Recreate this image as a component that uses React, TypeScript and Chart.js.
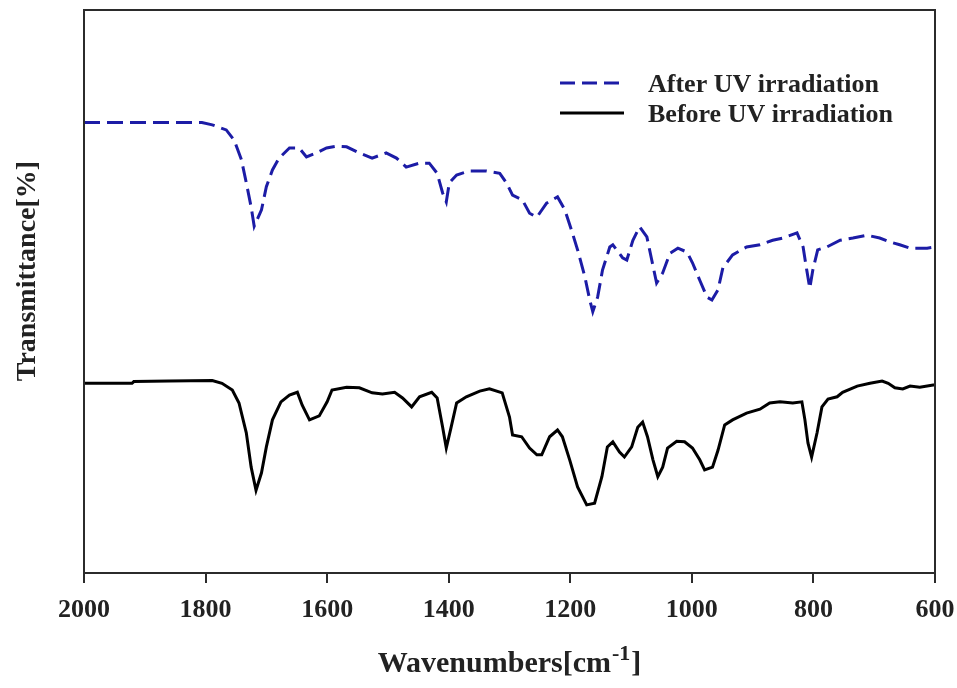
import React, { useEffect, useRef } from "react";
import { Chart, registerables } from "chart.js";

Chart.register(...registerables);

// ---- Data ----
const afterWavenumbers = [
  2000, 1806, 1789, 1766, 1753, 1741, 1733, 1725, 1720, 1708, 1700, 1690, 1679, 1662, 1646,
  1634, 1618, 1601, 1585, 1568, 1547, 1526, 1503, 1486, 1470, 1448, 1432, 1419, 1410, 1404,
  1399, 1387, 1366, 1338, 1316, 1305, 1295, 1279, 1267, 1255, 1239, 1221, 1209, 1198, 1188,
  1176, 1168, 1163, 1155, 1147, 1135, 1130, 1114, 1107, 1097, 1086, 1074, 1066, 1058, 1048,
  1036, 1023, 1008, 999, 987, 975, 967, 957, 949, 933, 910, 888, 867, 850, 827,
  817, 811, 806, 801, 793, 778, 756, 735, 712, 691, 674, 658, 641, 613, 600,
];
const afterTransmittance = [
  80.0, 80.0, 79.6, 78.7, 76.9, 73.4, 69.3, 65.0, 61.6, 64.5, 68.6, 71.6, 73.7, 75.5, 75.5,
  73.9, 74.6, 75.5, 75.8, 75.7, 74.6, 73.7, 74.6, 73.7, 72.1, 72.8, 72.8, 71.0, 67.5, 65.9,
  69.3, 70.7, 71.4, 71.4, 71.0, 69.3, 67.1, 66.3, 63.9, 63.2, 65.7, 66.8, 64.5, 60.9, 57.4,
  52.6, 48.5, 46.4, 49.0, 53.8, 57.9, 58.3, 56.0, 55.6, 59.1, 61.5, 59.7, 55.6, 51.5, 53.3,
  56.8, 57.7, 57.0, 55.1, 52.0, 49.0, 48.5, 50.3, 54.2, 56.5, 57.9, 58.3, 59.1, 59.5, 60.4,
  57.9, 53.8, 50.6, 53.8, 57.4, 57.9, 59.1, 59.5, 60.0, 59.5, 58.8, 58.3, 57.7, 57.7, 57.9,
];

const beforeWavenumbers = [
  2000, 1921, 1918, 1860, 1789, 1773, 1756, 1745, 1733, 1725, 1717, 1708, 1700, 1690, 1676,
  1662, 1649, 1641, 1629, 1613, 1600, 1592, 1568, 1547, 1526, 1509, 1489, 1476, 1461, 1448,
  1428, 1419, 1410, 1404, 1396, 1387, 1371, 1349, 1333, 1312, 1300, 1295, 1280, 1267, 1255,
  1247, 1234, 1221, 1213, 1201, 1188, 1173, 1160, 1148, 1139, 1130, 1119, 1111, 1099, 1089,
  1081, 1073, 1064, 1056, 1048, 1040, 1025, 1012, 999, 987, 979, 966, 957, 946, 933,
  910, 888, 872, 855, 834, 819, 814, 809, 803, 794, 786, 776, 761, 752, 728,
  707, 687, 677, 666, 653, 641, 625, 603, 600,
];
const beforeTransmittance = [
  33.7, 33.7, 34.0, 34.1, 34.2, 33.7, 32.5, 30.2, 24.9, 18.8, 14.7, 17.8, 22.4, 27.2, 30.4,
  31.6, 32.1, 29.8, 27.2, 27.9, 30.4, 32.5, 33.0, 32.9, 32.0, 31.8, 32.1, 31.1, 29.5, 31.3,
  32.1, 31.1, 25.9, 22.2, 25.9, 30.2, 31.3, 32.3, 32.7, 32.0, 27.7, 24.5, 24.2, 22.2, 21.0,
  21.0, 24.2, 25.4, 24.2, 20.1, 15.3, 12.1, 12.4, 17.1, 22.4, 23.3, 21.5, 20.6, 22.4, 25.9,
  26.8, 24.2, 20.1, 17.1, 18.8, 22.2, 23.4, 23.3, 22.2, 20.1, 18.3, 18.8, 21.8, 26.3, 27.2,
  28.4, 29.1, 30.2, 30.4, 30.2, 30.4, 27.2, 23.1, 20.6, 24.9, 29.5, 30.9, 31.3, 32.1, 33.2,
  33.7, 34.1, 33.7, 32.9, 32.7, 33.2, 33.0, 33.4, 33.4,
];

const xTickValues = [2000, 1800, 1600, 1400, 1200, 1000, 800, 600];
const seriesLabels = ["After UV irradiation", "Before UV irradiation"];
const xTitleMain = "Wavenumbers[cm";
const xTitleSup = "-1";
const xTitleEnd = "]";
const yTitle = "Transmittance[%]";

const BLUE = "#1c1ca6";
const AXIS = "#2b2b2b";
const SERIF = '"Liberation Serif", "Times New Roman", "DejaVu Serif", serif';

const decorPlugin = {
  id: "decor",
  afterDraw(chart: any) {
    const { ctx, chartArea: a } = chart;
    ctx.save();
    // frame box
    ctx.strokeStyle = AXIS;
    ctx.lineWidth = 2;
    ctx.strokeRect(a.left, a.top, a.right - a.left, a.bottom - a.top);

    // legend
    const lx0 = a.left + 476;
    const lx1 = a.left + 540;
    const tx = a.left + 564;
    const rows = [
      { y: a.top + 73, color: BLUE, dash: [15, 7], width: 3 },
      { y: a.top + 103, color: "#000", dash: [], width: 3 },
    ];
    ctx.font = `bold 26px ${SERIF}`;
    ctx.textAlign = "left";
    ctx.textBaseline = "alphabetic";
    rows.forEach((r, i) => {
      ctx.beginPath();
      ctx.setLineDash(r.dash);
      ctx.strokeStyle = r.color;
      ctx.lineWidth = r.width;
      ctx.moveTo(lx0, r.y);
      ctx.lineTo(lx1, r.y);
      ctx.stroke();
      ctx.setLineDash([]);
      ctx.fillStyle = "#222";
      ctx.fillText(seriesLabels[i], tx, r.y + 9);
    });

    // y title
    ctx.save();
    ctx.translate(35, 271);
    ctx.rotate(-Math.PI / 2);
    ctx.font = `bold 28px ${SERIF}`;
    ctx.textAlign = "center";
    ctx.textBaseline = "alphabetic";
    ctx.fillStyle = "#222";
    ctx.fillText(yTitle, 0, 0);
    ctx.restore();

    // x title with superscript
    const mainFont = `bold 30px ${SERIF}`;
    const supFont = `bold 22px ${SERIF}`;
    ctx.font = mainFont;
    const w1 = ctx.measureText(xTitleMain).width;
    const w3 = ctx.measureText(xTitleEnd).width;
    ctx.font = supFont;
    const w2 = ctx.measureText(xTitleSup).width;
    const total = w1 + w2 + w3 + 2;
    const cx = (a.left + a.right) / 2;
    let x = cx - total / 2;
    const base = 672;
    ctx.fillStyle = "#222";
    ctx.textAlign = "left";
    ctx.font = mainFont;
    ctx.fillText(xTitleMain, x, base);
    x += w1 + 1;
    ctx.font = supFont;
    ctx.fillText(xTitleSup, x, base - 12);
    x += w2 + 1;
    ctx.font = mainFont;
    ctx.fillText(xTitleEnd, x, base);
    ctx.restore();
  },
};

export default function App() {
  const ref = useRef<HTMLCanvasElement | null>(null);

  useEffect(() => {
    if (!ref.current) return;
    const chart = new Chart(ref.current, {
      type: "scatter",
      data: {
        datasets: [
          {
            label: seriesLabels[0],
            data: afterWavenumbers.map((w, i) => ({ x: w, y: afterTransmittance[i] })),
            showLine: true,
            borderColor: BLUE,
            borderWidth: 3,
            borderDash: [16, 7],
            pointRadius: 0,
            tension: 0,
          },
          {
            label: seriesLabels[1],
            data: beforeWavenumbers.map((w, i) => ({ x: w, y: beforeTransmittance[i] })),
            showLine: true,
            borderColor: "#000",
            borderWidth: 3,
            pointRadius: 0,
            tension: 0,
          },
        ],
      },
      options: {
        animation: false,
        responsive: false,
        devicePixelRatio: 1,
        layout: { padding: { left: 84, right: 22, top: 10, bottom: 0 } },
        plugins: { legend: { display: false }, tooltip: { enabled: false } },
        scales: {
          x: {
            type: "linear",
            reverse: true,
            min: 600,
            max: 2000,
            afterBuildTicks: (scale: any) => {
              scale.ticks = xTickValues.map((v) => ({ value: v }));
            },
            afterFit: (scale: any) => {
              scale.height = 115;
              scale.paddingLeft = 0;
              scale.paddingRight = 0;
            },
            ticks: {
              font: { family: SERIF, size: 26, weight: "bold" },
              color: "#222",
              padding: 12,
              maxRotation: 0,
              autoSkip: false,
              callback: (v: any) => String(v),
            },
            grid: {
              display: true,
              drawOnChartArea: false,
              drawTicks: true,
              tickLength: 10,
              color: AXIS,
              lineWidth: 2,
            },
            border: { display: true, color: AXIS, width: 2 },
          },
          y: {
            display: false,
            min: 0,
            max: 100,
          },
        },
      },
      plugins: [decorPlugin],
    } as any);
    return () => chart.destroy();
  }, []);

  return (
    <div style={{ position: "absolute", left: 0, top: 0, width: 957, height: 688, background: "#fff" }}>
      <canvas ref={ref} width={957} height={688} style={{ display: "block" }} />
    </div>
  );
}
